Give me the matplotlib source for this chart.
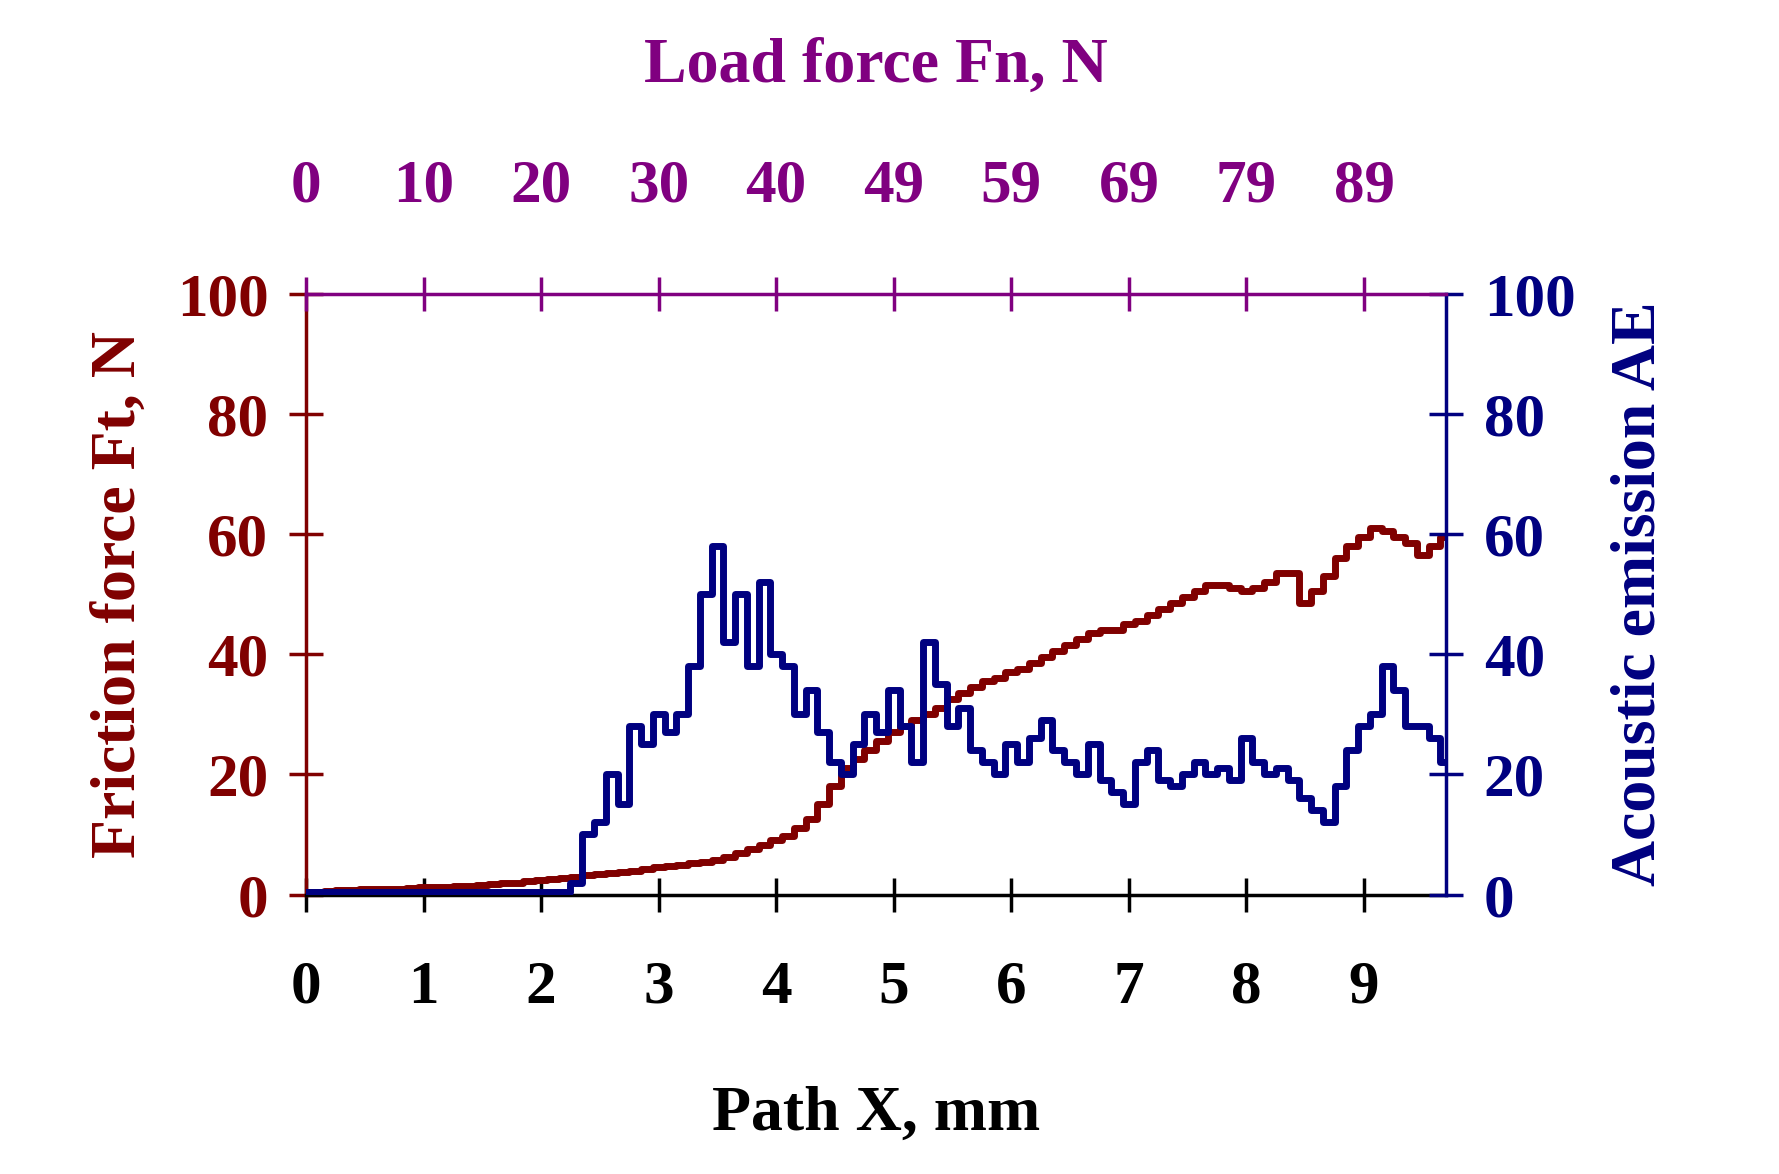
import matplotlib
matplotlib.use("Agg")
import matplotlib.pyplot as plt
import numpy as np

path_x = [round(i*0.1, 1) for i in range(98)]
friction = [0.5,0.5,0.6,0.7,0.8,0.9,0.9,1.0,1.0,1.1,
            1.2,1.3,1.3,1.4,1.5,1.6,1.8,1.9,2.0,2.2,
            2.4,2.6,2.8,3.0,3.2,3.4,3.6,3.8,4.0,4.3,
            4.6,4.8,5.0,5.2,5.5,5.8,6.3,7.0,7.6,8.2,
            9.0,9.8,11.0,12.5,15.0,18.0,21.0,22.5,24.0,25.5,
            27.0,28.0,29.0,30.0,31.0,32.5,33.5,34.5,35.5,36.0,
            37.0,37.5,38.5,39.5,40.5,41.5,42.5,43.5,44.0,44.0,
            45.0,45.5,46.5,47.5,48.5,49.5,50.5,51.5,51.5,51.0,
            50.5,51.0,52.0,53.5,53.5,48.5,50.5,53.0,56.0,58.0,
            59.5,61.0,60.5,59.5,58.5,56.5,58.0,59.5]
ae = [0.5]*23 + [2,10,12,20,15,28,25,30,27,30,
      38,50,58,42,50,38,52,40,38,30,
      34,27,22,20,25,30,27,34,28,22,
      42,35,28,31,24,22,20,25,22,26,
      29,24,22,20,25,19,17,15,22,24,
      19,18,20,22,20,21,19,26,22,20,
      21,19,16,14,12,18,24,28,30,38,
      34,28,28,26,22]
ae = ae[:98]
load_ticks = [0,10,20,30,40,49,59,69,79,89]

dark_red = '#800000'
navy = '#000080'
purple = '#800080'
plt.rcParams['font.family'] = ['Liberation Serif', 'DejaVu Serif']
plt.rcParams['font.weight'] = 'bold'
fs = 44

fig = plt.figure(figsize=(17.79, 11.74), dpi=100)
ax = fig.add_axes([0.172, 0.238, 0.641, 0.512])
ax.plot(path_x, friction, color=dark_red, lw=5, drawstyle='steps-mid')
ax.set_xlim(0, 9.7)
ax.set_ylim(0, 100)
ax.set_yticks(range(0, 101, 20))
ax.set_xticks(range(10))
ax.tick_params(axis='y', colors=dark_red, labelsize=fs, direction='inout', length=24, width=2.5, pad=15)
ax.tick_params(axis='x', colors='black', labelsize=fs, direction='inout', length=24, width=2.5, pad=35)
for lab in ax.get_xticklabels() + ax.get_yticklabels():
    lab.set_fontweight('bold')
ax.spines['left'].set_color(dark_red); ax.spines['left'].set_linewidth(2.5)
ax.spines['bottom'].set_color('black'); ax.spines['bottom'].set_linewidth(2.5)
ax.spines['top'].set_visible(False); ax.spines['right'].set_visible(False)
ax.set_ylabel('Friction force Ft, N', color=dark_red, fontsize=fs+2, fontweight='bold', labelpad=20)
ax.set_xlabel('Path X, mm', color='black', fontsize=fs+2, fontweight='bold', labelpad=50)

ax2 = ax.twinx()
ax2.plot(path_x, ae, color=navy, lw=5, drawstyle='steps-mid')
ax2.set_ylim(0, 100)
ax2.set_yticks(range(0, 101, 20))
ax2.tick_params(axis='y', colors=navy, labelsize=fs, direction='inout', length=24, width=2.5, pad=15)
for lab in ax2.get_yticklabels():
    lab.set_fontweight('bold')
for s in ['left', 'top', 'bottom']:
    ax2.spines[s].set_visible(False)
ax2.spines['right'].set_color(navy); ax2.spines['right'].set_linewidth(2.5)
ax2.set_ylabel('Acoustic emission AE', color=navy, fontsize=fs+2, fontweight='bold', labelpad=25)

ax3 = ax.twiny()
ax3.set_xlim(0, 9.7)
ax3.set_xticks(range(10))
ax3.set_xticklabels([str(v) for v in load_ticks])
ax3.tick_params(axis='x', colors=purple, labelsize=fs, direction='inout', length=24, width=2.5, pad=45)
for lab in ax3.get_xticklabels():
    lab.set_fontweight('bold')
for s in ['left', 'right', 'bottom']:
    ax3.spines[s].set_visible(False)
ax3.spines['top'].set_color(purple); ax3.spines['top'].set_linewidth(2.5)
ax3.set_xlabel('Load force Fn, N', color=purple, fontsize=fs+2, fontweight='bold', labelpad=55)

fig.savefig('out.png', dpi=100)
